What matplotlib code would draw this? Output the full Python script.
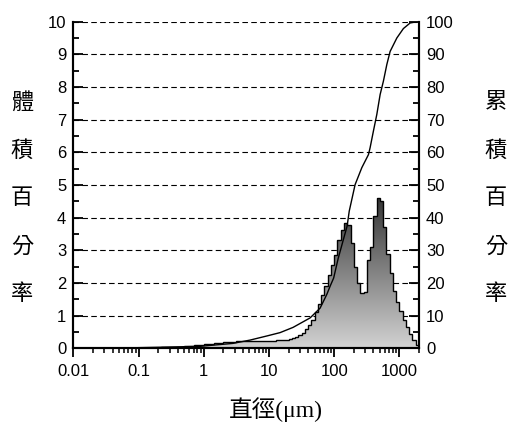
import numpy as np
import matplotlib.pyplot as plt
from matplotlib.colors import LinearSegmentedColormap
from matplotlib.ticker import MultipleLocator, LogLocator, NullFormatter

# ---------------------------
# Data
# ---------------------------
# size classes: 20 per decade from 0.1 um to ~2000 um
bin_edges = np.logspace(-1, 3.3, 87)

# volume % per size class
volume_pct = [
    0.005, 0.01, 0.01, 0.01, 0.015, 0.02, 0.02, 0.025, 0.03, 0.03,
    0.035, 0.04, 0.045, 0.05, 0.06, 0.07, 0.08, 0.09, 0.10, 0.11,
    0.12, 0.13, 0.14, 0.15, 0.16, 0.17, 0.18, 0.19, 0.20, 0.20,
    0.21, 0.21, 0.22, 0.22, 0.22, 0.23, 0.23, 0.23, 0.23, 0.23,
    0.23, 0.23, 0.24, 0.24, 0.25, 0.26, 0.28, 0.30, 0.34, 0.40,
    0.48, 0.58, 0.71, 0.87, 1.12, 1.36, 1.63, 1.91, 2.24, 2.55,
    2.86, 3.32, 3.62, 3.85, 3.78, 3.21, 2.50, 1.99, 1.70, 1.72,
    2.70, 3.11, 4.05, 4.60, 4.50, 3.72, 2.90, 2.30, 1.75, 1.42,
    1.15, 0.88, 0.65, 0.44, 0.24, 0.09,
]

# cumulative curve
cum_size = [0.01, 0.03, 0.08, 0.25, 0.88, 2.8, 5.1, 9.4, 14.8, 23.4, 42.7,
            60.8, 77, 86.5, 98, 115, 158, 170, 209, 265, 335, 355, 399,
            450, 506, 568, 641, 720, 912, 1151, 1459, 1849, 2000]
cum_pct = [0, 0, 0.15, 0.35, 0.6, 1.5, 2.5, 3.8, 4.8, 6.4, 9.3,
           12.3, 16.5, 19, 21.5, 27.5, 37.5, 42, 50.1, 55.3, 59.3, 61.4, 66.5,
           71.6, 77.7, 81.8, 86.9, 90.9, 95.0, 97.9, 99.6, 100, 100]

x_ticks = [0.01, 0.1, 1, 10, 100, 1000]
x_labels = ["0.01", "0.1", "1", "10", "100", "1000"]

left_label = "體積百分率"
right_label = "累積百分率"
x_title = "直徑(μm)"

# ---------------------------
# Figure
# ---------------------------
plt.rcParams['font.family'] = ['Liberation Sans', 'DejaVu Sans']

fig = plt.figure(figsize=(5.13, 4.25), dpi=100)
ax = fig.add_axes([0.1429, 0.1805, 0.674, 0.7685])

# gradient-filled histogram
shape = ax.stairs(volume_pct, bin_edges, fill=True, facecolor='none',
                  edgecolor='none')
grad = np.linspace(0, 1, 256).reshape(-1, 1)
cmap = LinearSegmentedColormap.from_list('grey_grad', ['#d2d2d2', '#353535'])
img = ax.imshow(grad, extent=[0.01, 2000, 0, max(volume_pct)], origin='lower',
                aspect='auto', cmap=cmap, zorder=2, interpolation='bilinear')
img.set_clip_path(shape)
ax.stairs(volume_pct, bin_edges, color='black', lw=1, zorder=3)

ax.set_xscale('log')
ax.set_xlim(0.01, 2000)
ax.set_ylim(0, 10)

ax.set_xticks(x_ticks)
ax.set_xticklabels(x_labels)
ax.xaxis.set_minor_locator(LogLocator(base=10, subs=np.arange(2, 10), numticks=20))
ax.xaxis.set_minor_formatter(NullFormatter())
ax.yaxis.set_major_locator(MultipleLocator(1))
ax.yaxis.set_minor_locator(MultipleLocator(0.5))

ax.yaxis.grid(True, linestyle=(0, (5, 3)), color='black', lw=0.8)
ax.tick_params(axis='y', which='major', direction='in', length=7, width=1.3,
               labelsize=12, pad=5)
ax.tick_params(axis='y', which='minor', direction='in', length=4, width=1.3)
ax.tick_params(axis='x', which='major', direction='out', length=6.5, width=1.3,
               labelsize=12, pad=5)
ax.tick_params(axis='x', which='minor', direction='out', length=3.5, width=1.1)

# cumulative axis
ax2 = ax.twinx()
ax2.plot(cum_size, cum_pct, color='black', lw=1)
ax2.set_ylim(0, 100)
ax2.yaxis.set_major_locator(MultipleLocator(10))
ax2.yaxis.set_minor_locator(MultipleLocator(5))
ax2.tick_params(axis='y', which='major', direction='in', length=7, width=1.3,
                labelsize=12, pad=5)
ax2.tick_params(axis='y', which='minor', direction='in', length=4, width=1.3)

for a in (ax, ax2):
    a.spines['top'].set_visible(False)
    for s in ('left', 'right', 'bottom'):
        a.spines[s].set_linewidth(1.5)

# vertical Chinese axis titles
cjk = ['Noto Sans CJK TC', 'DejaVu Sans']
rows_y = [102, 150, 198, 246, 294]
for ch, yp in zip(left_label, rows_y):
    fig.text(22 / 513, 1 - yp / 425, ch, ha='center', va='center',
             fontsize=16, family=cjk)
for ch, yp in zip(right_label, rows_y):
    fig.text(496 / 513, 1 - yp / 425, ch, ha='center', va='center',
             fontsize=16, family=cjk)

fig.text(276 / 513, 1 - 410 / 425, x_title, ha='center', va='center',
         fontsize=17, family=['Liberation Serif', 'Noto Sans CJK TC'])

fig.savefig("out.png", dpi=100)
plt.close(fig)
